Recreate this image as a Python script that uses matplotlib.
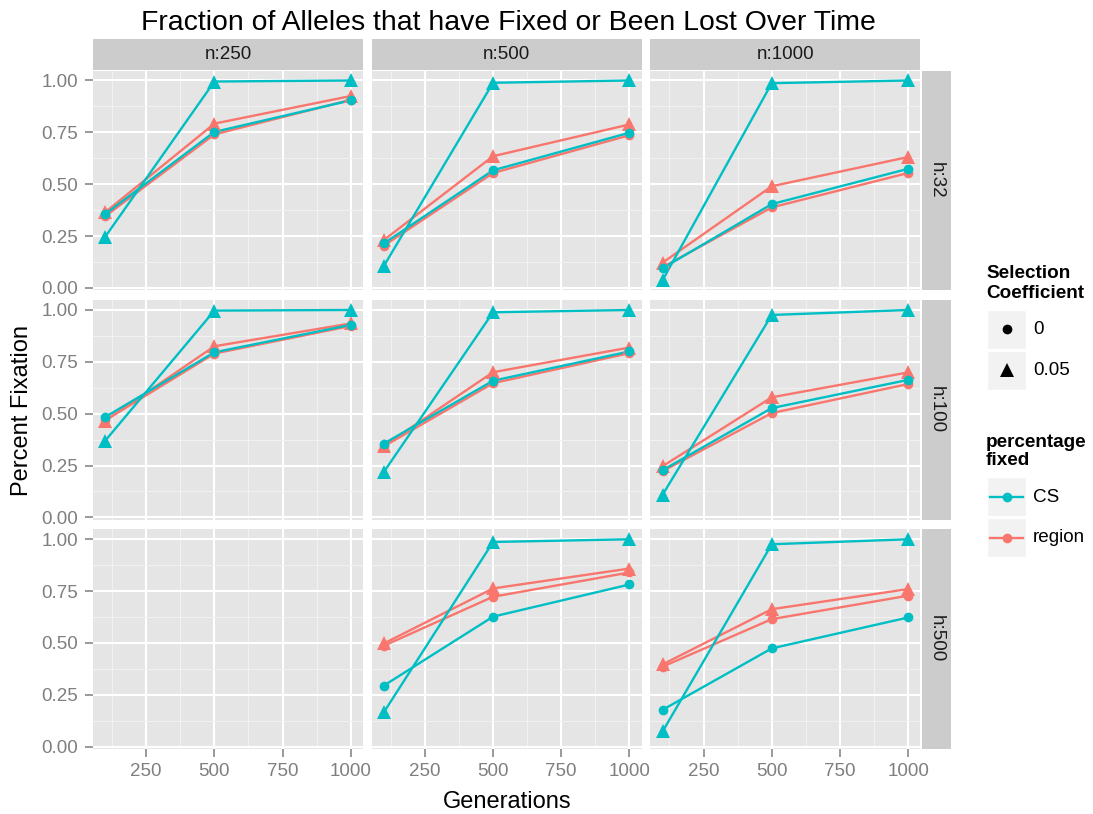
import matplotlib
matplotlib.use("Agg")
import matplotlib.pyplot as plt
from matplotlib.patches import Rectangle
from matplotlib.lines import Line2D

plt.rcParams['font.family'] = ['Liberation Sans', 'DejaVu Sans']

# ---------------- data ----------------
generations = [100, 500, 1000]
h_levels = ["h:32", "h:100", "h:500"]
n_levels = ["n:250", "n:500", "n:1000"]
x_ticks = [250, 500, 750, 1000]
y_ticks = [0.0, 0.25, 0.50, 0.75, 1.00]
y_tick_labels = ["0.00", "0.25", "0.50", "0.75", "1.00"]

# rows = h (32, 100, 500), cols = n (250, 500, 1000); None = no data
cs_sel0 = [
    [[0.356, 0.752, 0.904], [0.215, 0.567, 0.748], [0.095, 0.404, 0.574]],
    [[0.484, 0.796, 0.928], [0.356, 0.659, 0.800], [0.228, 0.527, 0.663]],
    [None, [0.295, 0.627, 0.782], [0.178, 0.474, 0.623]],
]
cs_sel005 = [
    [[0.247, 0.995, 1.0], [0.107, 0.989, 1.0], [0.038, 0.987, 1.0]],
    [[0.370, 0.997, 1.0], [0.220, 0.989, 1.0], [0.110, 0.976, 1.0]],
    [None, [0.167, 0.987, 1.0], [0.074, 0.976, 1.0]],
]
region_sel0 = [
    [[0.346, 0.740, 0.907], [0.204, 0.554, 0.736], [0.100, 0.388, 0.554]],
    [[0.468, 0.790, 0.923], [0.343, 0.647, 0.792], [0.223, 0.503, 0.643]],
    [None, [0.487, 0.723, 0.840], [0.386, 0.615, 0.728]],
]
region_sel005 = [
    [[0.365, 0.792, 0.925], [0.231, 0.635, 0.788], [0.122, 0.490, 0.631]],
    [[0.466, 0.825, 0.935], [0.345, 0.700, 0.819], [0.247, 0.579, 0.699]],
    [None, [0.498, 0.763, 0.859], [0.397, 0.663, 0.760]],
]

CS_COL = "#00BFC4"
REG_COL = "#F8766D"

# ---------------- layout (pixels) ----------------
W, H = 1093, 814
fig = plt.figure(figsize=(W / 100, H / 100), dpi=100)
fig.patch.set_facecolor("white")


def rect(x0, y0, w, h):
    return [x0 / W, 1 - (y0 + h) / H, w / W, h / H]


col_x = [93.0, 371.7, 650.4]
col_w = 270.0
row_y = [70.5, 300.0, 529.3]
row_h = 219.5

# axis limits like ggplot expansion (5% of data range)
all_vals = [v for s in (cs_sel0, cs_sel005, region_sel0, region_sel005)
            for row in s for p in row if p is not None for v in p]
ymn, ymx = min(all_vals), max(all_vals)
ylo, yhi = ymn - 0.05 * (ymx - ymn), ymx + 0.05 * (ymx - ymn)
xlo = min(generations) - 0.05 * (max(generations) - min(generations))
xhi = max(generations) + 0.05 * (max(generations) - min(generations))

series = [
    (region_sel0, REG_COL, "o", 7.0),
    (region_sel005, REG_COL, "^", 10.0),
    (cs_sel0, CS_COL, "o", 7.0),
    (cs_sel005, CS_COL, "^", 10.0),
]

for r in range(3):
    for c in range(3):
        ax = fig.add_axes(rect(col_x[c], row_y[r], col_w, row_h))
        ax.set_facecolor("#E5E5E5")
        for sp in ax.spines.values():
            sp.set_visible(False)
        ax.set_xlim(xlo, xhi)
        ax.set_ylim(ylo, yhi)
        ax.set_xticks(x_ticks)
        ax.set_xticks([125, 375, 625, 875], minor=True)
        ax.set_yticks(y_ticks)
        ax.set_yticks([0.125, 0.375, 0.625, 0.875], minor=True)
        ax.grid(which="major", color="white", lw=1.5)
        ax.grid(which="minor", color="#F2F2F2", lw=0.7)
        ax.set_axisbelow(True)
        ax.tick_params(which="minor", length=0)
        ax.tick_params(which="major", length=6, width=1.1, color="#7F7F7F",
                       labelsize=13.5, labelcolor="#7F7F7F", pad=4.5)
        if c == 0:
            ax.set_yticklabels(y_tick_labels)
        else:
            ax.tick_params(axis="y", which="both", length=0, labelleft=False)
        if r == 2:
            ax.set_xticklabels([str(t) for t in x_ticks])
        else:
            ax.tick_params(axis="x", which="both", length=0, labelbottom=False)

        for data, colr, mk, ms in series:
            vals = data[r][c]
            if vals is None:
                continue
            ax.plot(generations, vals, color=colr, lw=1.7, zorder=3,
                    solid_capstyle="butt")
        for data, colr, mk, ms in series:
            vals = data[r][c]
            if vals is None:
                continue
            ax.plot(generations, vals, linestyle="none", marker=mk,
                    markersize=ms, color=colr, markeredgewidth=0, zorder=4)

# top strips
for c in range(3):
    sax = fig.add_axes(rect(col_x[c], 39.0, col_w, 30.5))
    sax.set_xlim(0, 1); sax.set_ylim(0, 1)
    sax.axis("off")
    sax.add_patch(Rectangle((0, 0), 1, 1, color="#CCCCCC", transform=sax.transAxes))
    sax.text(0.5, 0.5, n_levels[c], ha="center", va="center", fontsize=13.5,
             color="#1A1A1A", transform=sax.transAxes)

# right strips
for r in range(3):
    sax = fig.add_axes(rect(922.0, row_y[r], 29.0, row_h))
    sax.set_xlim(0, 1); sax.set_ylim(0, 1)
    sax.axis("off")
    sax.add_patch(Rectangle((0, 0), 1, 1, color="#CCCCCC", transform=sax.transAxes))
    sax.text(0.5, 0.5, h_levels[r], ha="center", va="center", fontsize=13.5,
             rotation=-90, color="#1A1A1A", transform=sax.transAxes)

# overlay for titles and legend (pixel coordinates)
ov = fig.add_axes([0, 0, 1, 1])
ov.set_xlim(0, W)
ov.set_ylim(H, 0)
ov.axis("off")
ov.patch.set_alpha(0)

ov.text(508, 30, "Fraction of Alleles that have Fixed or Been Lost Over Time",
        ha="center", va="baseline", fontsize=20.4, color="black")
ov.text(507, 808, "Generations", ha="center", va="baseline", fontsize=17,
        color="black")
ov.text(22, 410, "Percent Fixation", ha="center", va="center", fontsize=17,
        rotation=90, color="black")

# legend 1: Selection Coefficient
ov.text(986, 278, "Selection", ha="left", va="baseline", fontsize=13.6,
        fontweight="bold")
ov.text(986, 298, "Coefficient", ha="left", va="baseline", fontsize=13.6,
        fontweight="bold")
sel_labels = ["0", "0.05"]
sel_markers = ["o", "^"]
sel_ms = [7.0, 10.0]
for i, (lab, mk, ms) in enumerate(zip(sel_labels, sel_markers, sel_ms)):
    y0 = 309.5 + i * 41.0
    ov.add_patch(Rectangle((987, y0), 39, 39, facecolor="#F2F2F2",
                           edgecolor="white", lw=1))
    ov.plot([1006.5], [y0 + 19.5], marker=mk, markersize=ms, color="black",
            markeredgewidth=0, linestyle="none")
    ov.text(1033, y0 + 20, lab, ha="left", va="center", fontsize=13.6)

# legend 2: percentage fixed
ov.text(986, 447, "percentage", ha="left", va="baseline", fontsize=13.6,
        fontweight="bold")
ov.text(986, 465, "fixed", ha="left", va="baseline", fontsize=13.6,
        fontweight="bold")
pf_labels = ["CS", "region"]
pf_colors = [CS_COL, REG_COL]
for i, (lab, colr) in enumerate(zip(pf_labels, pf_colors)):
    y0 = 477.0 + i * 41.0
    ov.add_patch(Rectangle((987, y0), 39, 39, facecolor="#F2F2F2",
                           edgecolor="white", lw=1))
    ov.add_line(Line2D([990, 1023], [y0 + 19.5, y0 + 19.5], color=colr, lw=1.7))
    ov.plot([1006.5], [y0 + 19.5], marker="o", markersize=7.0, color=colr,
            markeredgewidth=0, linestyle="none")
    ov.text(1033, y0 + 20, lab, ha="left", va="center", fontsize=13.6)

fig.savefig("out.png", dpi=100)
